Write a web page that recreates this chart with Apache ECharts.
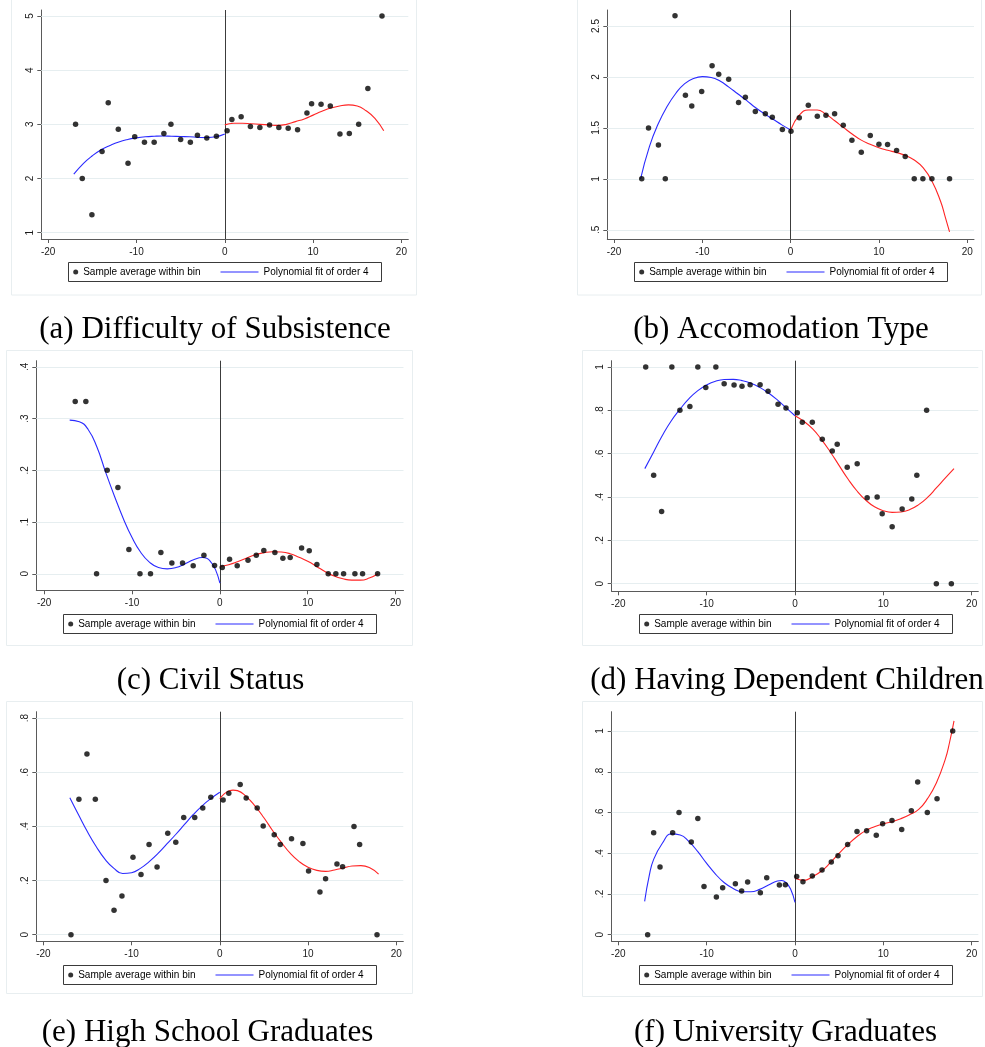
<!DOCTYPE html>
<html>
<head>
<meta charset="utf-8">
<script src="https://cdn.jsdelivr.net/npm/echarts@6/dist/echarts.min.js"></script>
<style>
  html, body { margin: 0; padding: 0; background: #ffffff; }
  #chart { width: 985px; height: 1047px; }
</style>
</head>
<body>
<div id="chart"></div>
<script>
// ---- tick values ----
const xTicks = [-20, -10, 0, 10, 20];
const yTicksA = [1, 2, 3, 4, 5];
const yTicksB = [0.5, 1, 1.5, 2, 2.5];
const yTicksC = [0, 0.1, 0.2, 0.3, 0.4];
const yTicksD = [0, 0.2, 0.4, 0.6, 0.8, 1];
const yTicksE = [0, 0.2, 0.4, 0.6, 0.8];
const yTicksF = [0, 0.2, 0.4, 0.6, 0.8, 1];

// ---- (a) Difficulty of Subsistence ----
const binsA = [[-16.9,3.0],[-16.14,2.0],[-15.05,1.333],[-13.9,2.5],[-13.2,3.4],[-12.06,2.91],[-10.96,2.28],[-10.2,2.77],[-9.1,2.67],[-8.0,2.67],[-6.9,2.83],[-6.1,3.0],[-5.0,2.72],[-3.9,2.67],[-3.1,2.80],[-2.04,2.75],[-0.95,2.78],
  [0.26,2.88],[0.8,3.09],[1.85,3.14],[2.9,2.96],[3.97,2.94],[5.07,2.99],[6.12,2.94],[7.18,2.93],[8.24,2.90],[9.3,3.21],[9.83,3.38],[10.9,3.37],[11.95,3.34],[13.04,2.82],[14.1,2.83],[15.16,3.0],[16.2,3.66],[17.8,5.0]];
const fitLeftA = [[-17.1,2.08],[-16,2.28],[-15,2.42],[-14,2.53],[-13,2.61],[-12,2.675],[-11,2.72],[-10,2.75],[-9,2.77],[-8,2.78],[-7,2.785],[-6,2.78],[-5,2.775],[-4,2.77],[-3,2.76],[-2,2.755],[-1,2.77],[0,2.82]];
const fitRightA = [[0,2.99],[1,3.02],[2,3.02],[3,3.01],[4,3.0],[5,2.99],[6,2.98],[7,3.0],[8,3.05],[9,3.10],[10,3.17],[11,3.24],[12,3.30],[13,3.34],[14,3.36],[15,3.34],[16,3.25],[17,3.11],[18,2.88]];

// ---- (b) Accomodation Type ----
const binsB = [[-16.87,1.0],[-16.1,1.5],[-14.98,1.333],[-14.2,1.0],[-13.1,2.6],[-11.92,1.82],[-11.2,1.716],[-10.08,1.857],[-8.9,2.11],[-8.15,2.026],[-7.02,1.977],[-5.9,1.75],[-5.13,1.80],[-4.0,1.66],[-2.87,1.64],[-2.08,1.605],[-0.94,1.484],
  [0.04,1.467],[0.98,1.60],[2.0,1.722],[3.02,1.614],[4.0,1.624],[4.98,1.64],[5.96,1.526],[6.94,1.379],[8.0,1.26],[9.02,1.425],[10.0,1.34],[10.98,1.337],[12.0,1.278],[12.98,1.219],[14.0,1.0],[14.98,1.0],[16.0,1.0],[18.0,1.0]];
const fitLeftB = [[-17,1.0],[-16,1.317],[-15,1.54],[-14,1.71],[-13,1.84],[-12,1.935],[-11,1.985],[-10,2.003],[-9,1.995],[-8,1.96],[-7,1.90],[-6,1.835],[-5,1.77],[-4,1.70],[-3,1.64],[-2,1.585],[-1,1.53],[0,1.48]];
const fitRightB = [[0,1.48],[1,1.627],[2,1.676],[3,1.676],[4,1.634],[5,1.57],[6,1.503],[7,1.438],[8,1.38],[9,1.34],[10,1.305],[11,1.28],[12,1.258],[13,1.23],[14,1.185],[15,1.11],[16,0.98],[17,0.775],[17.5,0.63],[18,0.48]];

// ---- (c) Civil Status ----
const binsC = [[-16.47,0.3333],[-15.26,0.3333],[-14.04,0],[-12.83,0.2],[-11.61,0.1667],[-10.36,0.047],[-9.1,0],[-7.9,0],[-6.72,0.041],[-5.47,0.0206],[-4.25,0.0206],[-3.04,0.0155],[-1.82,0.036],[-0.61,0.016],
  [0.27,0.012],[1.1,0.028],[1.97,0.0155],[3.2,0.026],[4.14,0.036],[5.0,0.045],[6.26,0.041],[7.17,0.030],[8.0,0.0316],[9.3,0.0497],[10.17,0.0445],[11.04,0.018],[12.33,0],[13.2,0],[14.08,0],[15.37,0],[16.24,0],[17.95,0]];
const fitLeftC = [[-17.1,0.297],[-16,0.294],[-15,0.279],[-14,0.245],[-13,0.196],[-12,0.150],[-11,0.107],[-10,0.070],[-9,0.041],[-8,0.022],[-7,0.012],[-6,0.0095],[-5,0.012],[-4,0.019],[-3,0.027],[-2,0.0315],[-1.5,0.030],[-1,0.022],[-0.5,0.008],[0,-0.018]];
const fitRightC = [[0,0.014],[1,0.0174],[2,0.023],[3,0.030],[4,0.0368],[5,0.0406],[6,0.0426],[7,0.042],[8,0.0387],[9,0.032],[10,0.024],[11,0.0142],[12,0.0039],[13,-0.0045],[14,-0.0097],[15,-0.0123],[16,-0.0123],[17,-0.0084],[18,0.0]];

// ---- (d) Having Dependent Children ----
const binsD = [[-16.9,1],[-16.0,0.5],[-15.1,0.333],[-13.94,1],[-13.03,0.8],[-11.9,0.818],[-11.0,1],[-10.1,0.905],[-8.96,1],[-8.02,0.923],[-6.9,0.917],[-6.0,0.911],[-5.08,0.918],[-3.95,0.918],[-3.05,0.888],[-1.92,0.828],[-1.02,0.811],
  [0.26,0.789],[0.83,0.745],[1.96,0.745],[3.09,0.666],[4.22,0.612],[4.78,0.643],[5.91,0.537],[7.04,0.554],[8.17,0.397],[9.3,0.4],[9.87,0.323],[11.0,0.263],[12.13,0.345],[13.22,0.391],[13.79,0.5],[14.9,0.8],[16.0,0],[17.7,0]];
const fitLeftD = [[-17,0.531],[-16,0.608],[-15,0.685],[-14,0.752],[-13,0.806],[-12,0.854],[-11,0.891],[-10,0.917],[-9,0.934],[-8,0.942],[-7,0.943],[-6,0.937],[-5,0.925],[-4,0.906],[-3,0.88],[-2,0.848],[-1,0.811],[0,0.775]];
const fitRightD = [[0,0.775],[1,0.749],[2,0.714],[3,0.665],[4,0.608],[5,0.545],[6,0.483],[7,0.429],[8,0.386],[9,0.355],[10,0.337],[11,0.329],[12,0.331],[13,0.342],[14,0.365],[15,0.398],[16,0.442],[17,0.487],[18,0.531]];

// ---- (e) High School Graduates ----
const binsE = [[-16.87,0],[-15.97,0.5],[-15.06,0.667],[-14.11,0.5],[-12.9,0.2],[-11.99,0.09],[-11.09,0.143],[-9.84,0.2857],[-8.93,0.222],[-8.02,0.333],[-7.11,0.25],[-5.9,0.375],[-4.99,0.341],[-4.09,0.433],[-2.84,0.433],[-1.93,0.468],[-1.02,0.508],
  [0.38,0.497],[1.02,0.522],[2.31,0.555],[2.99,0.505],[4.24,0.468],[4.92,0.401],[6.17,0.369],[6.85,0.333],[8.13,0.354],[9.42,0.337],[10.06,0.235],[11.35,0.1575],[11.99,0.207],[13.28,0.261],[13.92,0.251],[15.21,0.4],[15.85,0.333],[17.82,0]];
const fitLeftE = [[-17,0.506],[-16,0.442],[-15,0.38],[-14,0.325],[-13,0.278],[-12,0.245],[-11,0.226],[-10,0.229],[-9,0.245],[-8,0.27],[-7,0.30],[-6,0.335],[-5,0.37],[-4,0.407],[-3,0.444],[-2,0.476],[-1,0.503],[0,0.526]];
const fitRightE = [[0,0.502],[0.5,0.52],[1,0.53],[1.5,0.534],[2,0.532],[3,0.51],[4,0.475],[5,0.432],[6,0.384],[7,0.34],[8,0.30],[9,0.27],[10,0.249],[11,0.2375],[12,0.234],[13,0.239],[14,0.246],[15,0.2535],[16,0.255],[17,0.247],[18,0.224]];

// ---- (f) University Graduates ----
const binsF = [[-16.68,0],[-16.0,0.5],[-15.28,0.333],[-13.85,0.5],[-13.13,0.6],[-11.74,0.455],[-11.0,0.571],[-10.3,0.237],[-8.9,0.185],[-8.19,0.231],[-6.75,0.25],[-6.04,0.214],[-5.36,0.259],[-3.92,0.206],[-3.2,0.28],[-1.77,0.244],[-1.09,0.245],
  [0.19,0.286],[0.9,0.26],[1.96,0.288],[3.06,0.3175],[4.11,0.357],[4.87,0.388],[5.96,0.4435],[7.02,0.507],[8.11,0.511],[9.2,0.488],[9.92,0.545],[10.98,0.561],[12.08,0.517],[13.17,0.609],[13.89,0.75],[14.98,0.6],[16.08,0.667],[17.85,1.0]];
const fitLeftF = [[-17.02,0.164],[-16.5,0.29],[-16,0.37],[-15,0.45],[-14,0.495],[-13,0.49],[-12,0.457],[-11,0.4075],[-10,0.35],[-9,0.298],[-8,0.255],[-7,0.227],[-6,0.211],[-5,0.211],[-4,0.2226],[-3,0.244],[-2,0.2635],[-1.5,0.266],[-1,0.255],[-0.5,0.224],[0,0.159]];
const fitRightF = [[0,0.277],[1,0.267],[2,0.285],[3,0.3126],[4,0.3535],[5,0.40],[6,0.4435],[7,0.481],[8,0.511],[9,0.53],[10,0.545],[11,0.555],[12,0.57],[13,0.59],[14,0.615],[15,0.668],[16,0.745],[17,0.86],[17.5,0.945],[18,1.05]];

const captions = ['(a) Difficulty of Subsistence', '(b) Accomodation Type', '(c) Civil Status',
                  '(d) Having Dependent Children', '(e) High School Graduates', '(f) University Graduates'];
const legendNames = ['Sample average within bin', 'Polynomial fit of order 4'];

// ---- layout of the six panels ----
const panels = [
  { bins: binsA, fitL: fitLeftA, fitR: fitRightA, yTicks: yTicksA, x: [-20.78, 20.78], y: [0.883, 5.111],
    grid: [41.3, 10, 367, 229], box: [68, 262, 313, 19], frame: [11.5, -2, 405, 297], cap: [215, 330] },
  { bins: binsB, fitL: fitLeftB, fitR: fitRightB, yTicks: yTicksB, x: [-20.77, 20.77], y: [0.41, 2.657],
    grid: [607.3, 10, 366.7, 229], box: [634, 262, 313, 19], frame: [577.5, -2, 404, 297], cap: [781, 330] },
  { bins: binsC, fitL: fitLeftC, fitR: fitRightC, yTicks: yTicksC, x: [-20.9, 20.9], y: [-0.032, 0.412],
    grid: [36.3, 360.7, 367.2, 229.6], box: [63, 614, 313, 19], frame: [6.5, 350.5, 406, 295], cap: [210.5, 681] },
  { bins: binsD, fitL: fitLeftD, fitR: fitRightD, yTicks: yTicksD, x: [-20.75, 20.75], y: [-0.035, 1.029],
    grid: [611.7, 360.7, 366.6, 230.6], box: [639, 614, 313, 19], frame: [582.5, 350.5, 400, 295], cap: [787, 681] },
  { bins: binsE, fitL: fitLeftE, fitR: fitRightE, yTicks: yTicksE, x: [-20.8, 20.8], y: [-0.0244, 0.8235],
    grid: [36.3, 711.7, 367, 229.6], box: [63, 965, 313, 19], frame: [6.5, 701.5, 406, 292], cap: [207.5, 1033] },
  { bins: binsF, fitL: fitLeftF, fitR: fitRightF, yTicks: yTicksF, x: [-20.75, 20.75], y: [-0.0324, 1.095],
    grid: [611.7, 711.7, 366.6, 229.6], box: [639, 965, 313, 19], frame: [582.5, 701.5, 400, 295], cap: [785.5, 1033] }
];

// Stata-style numbers: leading zero dropped (0.4 -> .4)
function fmt(v) {
  if (v === 0) return '0';
  return String(v).replace(/^(-?)0\./, '$1.');
}

const AXIS_COLOR = '#5a5a5a';
const SANS = '"Liberation Sans", Arial, sans-serif';
const LINE_ICON = 'path://M0,0H38V1H0Z';
const option = {
  animation: false,
  backgroundColor: '#ffffff',
  grid: [], xAxis: [], yAxis: [], series: [], legend: [], graphic: []
};

panels.forEach(function (p, i) {
  option.grid.push({ left: p.grid[0], top: p.grid[1], width: p.grid[2], height: p.grid[3] });

  option.xAxis.push({
    type: 'value', gridIndex: i, min: p.x[0], max: p.x[1],
    axisLine: { show: true, onZero: false, lineStyle: { color: AXIS_COLOR, width: 1 } },
    axisTick: { show: true, length: 4, customValues: xTicks, lineStyle: { color: AXIS_COLOR, width: 1 } },
    axisLabel: { show: true, customValues: xTicks, formatter: fmt, fontSize: 10, fontFamily: SANS, color: '#1a1a1a', margin: 8 },
    splitLine: { show: false }
  });
  option.yAxis.push({
    type: 'value', gridIndex: i, min: p.y[0], max: p.y[1],
    axisLine: { show: true, onZero: false, lineStyle: { color: AXIS_COLOR, width: 1 } },
    axisTick: { show: true, length: 4, customValues: p.yTicks, lineStyle: { color: AXIS_COLOR, width: 1 } },
    axisLabel: { show: true, customValues: p.yTicks, formatter: fmt, rotate: 90, fontSize: 10, fontFamily: SANS, color: '#1a1a1a', margin: 6 },
    splitLine: { show: false }
  });

  // light horizontal grid lines at the y ticks and the cutoff line at zero
  option.series.push({
    type: 'line', xAxisIndex: i, yAxisIndex: i, data: [], silent: true, z: 1,
    markLine: {
      z: 1, silent: true, symbol: ['none', 'none'], label: { show: false },
      lineStyle: { color: '#e6eef0', width: 1, type: 'solid' },
      emphasis: { disabled: true },
      data: p.yTicks.map(function (v) { return { yAxis: v }; })
        .concat([{ xAxis: 0, lineStyle: { color: '#3c3c3c', width: 1, type: 'solid' } }])
    }
  });
  // bin averages
  option.series.push({
    name: legendNames[0], type: 'scatter', xAxisIndex: i, yAxisIndex: i,
    symbol: 'circle', symbolSize: 5.5, itemStyle: { color: '#000000' }, z: 4,
    data: p.bins
  });
  // quartic fit left of the cutoff
  option.series.push({
    name: legendNames[1], type: 'line', xAxisIndex: i, yAxisIndex: i,
    symbol: 'none', smooth: 0.5, lineStyle: { color: '#2a2aff', width: 1.1 }, itemStyle: { color: '#2a2aff' }, z: 3,
    data: p.fitL
  });
  // quartic fit right of the cutoff
  option.series.push({
    name: 'fit-right-' + i, type: 'line', xAxisIndex: i, yAxisIndex: i,
    symbol: 'none', smooth: 0.5, lineStyle: { color: '#ff2424', width: 1.1 }, itemStyle: { color: '#ff2424' }, z: 3,
    data: p.fitR
  });

  // legend: dot entry and line entry inside one framed box
  const bx = p.box[0], by = p.box[1], bw = p.box[2], bh = p.box[3];
  const cy = by + bh / 2;
  option.legend.push({
    left: bx + 5.2, top: cy - 4.5, padding: 0, itemWidth: 5, itemHeight: 14, itemGap: 0,
    selectedMode: false, icon: 'circle', data: [legendNames[0]],
    textStyle: { fontSize: 10, fontFamily: SANS, color: '#000000' }
  });
  option.legend.push({
    left: bx + 152.5, top: cy - 4.5, padding: 0, itemWidth: 38, itemHeight: 14, itemGap: 0,
    selectedMode: false, data: [{ name: legendNames[1], icon: LINE_ICON }],
    textStyle: { fontSize: 10, fontFamily: SANS, color: '#000000' }
  });
  option.graphic.push({
    type: 'rect', silent: true, z: 1,
    shape: { x: bx + 0.5, y: by + 0.5, width: bw, height: bh },
    style: { fill: 'transparent', stroke: '#3a3a3a', lineWidth: 1 }
  });
  // faint outer frame of each panel
  option.graphic.push({
    type: 'rect', silent: true, z: 0,
    shape: { x: p.frame[0], y: p.frame[1], width: p.frame[2], height: p.frame[3] },
    style: { fill: 'transparent', stroke: '#e8eef0', lineWidth: 1 }
  });
  // caption under the panel
  option.graphic.push({
    type: 'text', silent: true, z: 5, x: p.cap[0], y: p.cap[1],
    style: { text: captions[i], fontSize: 31, fontFamily: '"Liberation Serif", "Times New Roman", serif',
             fill: '#000000', align: 'center', verticalAlign: 'middle' }
  });
});

const chart = echarts.init(document.getElementById('chart'), null, { renderer: 'canvas' });
chart.setOption(option);
</script>
</body>
</html>
